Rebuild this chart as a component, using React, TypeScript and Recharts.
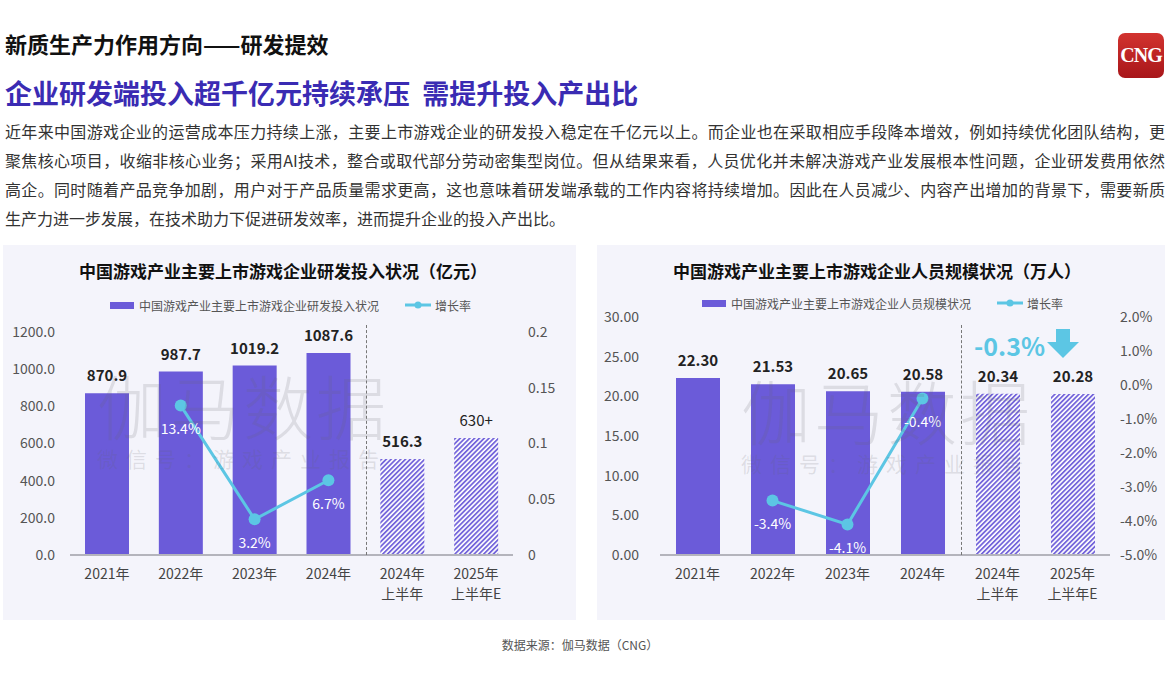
import React from 'react';
import { ComposedChart, Bar, Line, XAxis, YAxis, Cell, LabelList } from 'recharts';

const years = ['2021年', '2022年', '2023年', '2024年', '2024年\n上半年', '2025年\n上半年E'];

// 研发投入（亿元）
const rdInvest = [870.9, 987.7, 1019.2, 1087.6, 516.3, 630];
const rdInvestLabels = ['870.9', '987.7', '1019.2', '1087.6', '516.3', '630+'];
const rdGrowth = [null, 0.134, 0.032, 0.067, null, null];
const rdLeftTicks = [0, 200, 400, 600, 800, 1000, 1200];
const rdRightTicks = [0, 0.05, 0.1, 0.15, 0.2];

// 人员规模（万人）
const staff = [22.3, 21.53, 20.65, 20.58, 20.34, 20.28];
const staffLabels = ['22.30', '21.53', '20.65', '20.58', '20.34', '20.28'];
const staffGrowth = [null, -3.4, -4.1, -0.4, null, null];
const staffLeftTicks = [0, 5, 10, 15, 20, 25, 30];
const staffRightTicks = [-5, -4, -3, -2, -1, 0, 1, 2];

const paragraph = [
  '近年来中国游戏企业的运营成本压力持续上涨，主要上市游戏企业的研发投入稳定在千亿元以上。而企业也在采取相应手段降本增效，例如持续优化团队结构，更',
  '聚焦核心项目，收缩非核心业务；采用AI技术，整合或取代部分劳动密集型岗位。但从结果来看，人员优化并未解决游戏产业发展根本性问题，企业研发费用依然',
  '高企。同时随着产品竞争加剧，用户对于产品质量需求更高，这也意味着研发端承载的工作内容将持续增加。因此在人员减少、内容产出增加的背景下，需要新质',
  '生产力进一步发展，在技术助力下促进研发效率，进而提升企业的投入产出比。',
];

const PURPLE = '#6b5bd9';
const HATCH = '#7566db';
const CYAN = '#5cc6e4';
const PANEL_BG = '#f4f4fb';
const FONT = '"Noto Sans CJK SC", "Noto Sans", sans-serif';

const rdData = years.map((name, i) => ({
  name,
  value: rdInvest[i],
  label: rdInvestLabels[i],
  growth: rdGrowth[i],
}));

const staffData = years.map((name, i) => ({
  name,
  value: staff[i],
  label: staffLabels[i],
  growth: staffGrowth[i],
}));

const YearTick = (props: any) => {
  const { x, y, payload } = props;
  const lines = String(payload.value).split('\n');
  return (
    <text x={x} y={y} textAnchor="middle" fontSize={14} fill="#444" fontFamily={FONT}>
      {lines.map((l, i) => (
        <tspan key={i} x={x} dy={i === 0 ? 16 : 20}>
          {l}
        </tspan>
      ))}
    </text>
  );
};

function barLabel(labels: string[]) {
  return (props: any) => {
    const vb = props.viewBox ?? props;
    const idx = props.index;
    const text = labels[idx];
    if (text == null) return null;
    return (
      <text
        x={vb.x + vb.width / 2}
        y={vb.y - 16}
        textAnchor="middle"
        dominantBaseline="middle"
        fontSize={15}
        fontWeight={text.endsWith('+') ? 400 : 700}
        fill="#222"
        fontFamily={FONT}
      >
        {text}
      </text>
    );
  };
}

function lineLabel(fmt: (v: number) => string) {
  return (props: any) => {
    const vb = props.viewBox ?? props;
    const v = props.value;
    if (v == null || vb.x == null || vb.y == null) return null;
    return (
      <text
        x={vb.x}
        y={vb.y + 25}
        textAnchor="middle"
        dominantBaseline="middle"
        fontSize={14}
        fill="#fff"
        fontFamily={FONT}
      >
        {fmt(v)}
      </text>
    );
  };
}

function Legend({ top, rectLeft, label }: { top: number; rectLeft: number; label: string }) {
  return (
    <div
      style={{
        position: 'absolute',
        left: rectLeft,
        top: top - 9,
        height: 18,
        display: 'flex',
        alignItems: 'center',
        fontSize: 12,
        color: '#555',
        whiteSpace: 'nowrap',
      }}
    >
      <span style={{ width: 24, height: 7, background: PURPLE, marginRight: 5 }} />
      <span>{label}</span>
      <svg width={26} height={10} style={{ marginLeft: 26, marginRight: 4 }}>
        <line x1={0} y1={5} x2={26} y2={5} stroke={CYAN} strokeWidth={3} />
        <circle cx={13} cy={5} r={3.5} fill={CYAN} />
      </svg>
      <span>增长率</span>
    </div>
  );
}

function Watermark({ left, top }: { left: number; top: number }) {
  return (
    <div style={{ position: 'absolute', left, top, pointerEvents: 'none', color: 'rgba(100,100,110,0.17)' }}>
      <div style={{ fontSize: 70, letterSpacing: 3, lineHeight: '76px', whiteSpace: 'nowrap', fontWeight: 300 }}>伽马数据</div>
      <div style={{ fontSize: 21, letterSpacing: 8, lineHeight: '26px', marginTop: 2, whiteSpace: 'nowrap' }}>
        微信号：游戏产业报告
      </div>
    </div>
  );
}

export default function App() {
  return (
    <div
      style={{
        position: 'absolute',
        left: 0,
        top: 0,
        width: 1170,
        height: 685,
        background: '#fff',
        fontFamily: FONT,
        overflow: 'hidden',
      }}
    >
      <svg width={0} height={0} style={{ position: 'absolute' }}>
        <defs>
          <pattern id="hatch" patternUnits="userSpaceOnUse" width={3.4} height={3.4} patternTransform="rotate(45)">
            <rect width={3.4} height={3.4} fill="#ffffff" />
            <line x1={0.9} y1={0} x2={0.9} y2={3.4} stroke={HATCH} strokeWidth={1.8} />
          </pattern>
        </defs>
      </svg>

      <div style={{ position: 'absolute', left: 5, top: 28, fontSize: 22, fontWeight: 700, color: '#111', lineHeight: '30px' }}>
        新质生产力作用方向——研发提效
      </div>
      <div style={{ position: 'absolute', left: 5, top: 74, fontSize: 27, fontWeight: 700, color: '#3a2bb3', lineHeight: '38px', whiteSpace: 'pre' }}>
        企业研发端投入超千亿元持续承压  需提升投入产出比
      </div>

      <div style={{ position: 'absolute', left: 5, top: 117, width: 1160, fontSize: 16, color: '#333', lineHeight: '29px' }}>
        {paragraph.map((line, i) => (
          <div
            key={i}
            style={{
              textAlign: 'justify',
              textAlignLast: i < paragraph.length - 1 ? 'justify' : 'left',
              whiteSpace: 'nowrap',
            }}
          >
            {line}
          </div>
        ))}
      </div>

      <div style={{ position: 'absolute', left: 1118, top: 33, width: 46, height: 45, borderRadius: 7, background: 'linear-gradient(180deg, #d2332f 0%, #a8161a 100%)', display: 'flex', alignItems: 'center', justifyContent: 'center' }}>
        <span style={{ color: '#fff', fontFamily: '"Liberation Serif", "DejaVu Serif", serif', fontWeight: 700, fontSize: 20, letterSpacing: -1 }}>CNG</span>
      </div>

      {/* 左图：研发投入 */}
      <div style={{ position: 'absolute', left: 3, top: 245, width: 573, height: 375, background: PANEL_BG }}>
        <div style={{ position: 'absolute', left: 0, width: 560, top: 14, textAlign: 'center', fontSize: 17, fontWeight: 700, color: '#111', lineHeight: '24px' }}>
          中国游戏产业主要上市游戏企业研发投入状况（亿元）
        </div>
        <Legend top={60} rectLeft={107} label="中国游戏产业主要上市游戏企业研发投入状况" />
        <ComposedChart width={573} height={375} data={rdData} margin={{ top: 87, right: 10, bottom: 15, left: 10 }} style={{ position: 'absolute', left: 0, top: 0 }}>
          <XAxis dataKey="name" interval={0} tickLine={false} axisLine={{ stroke: '#b4b4bc', strokeWidth: 2 }} tick={<YearTick />} height={50} />
          <YAxis yAxisId="left" width={57} domain={[0, 1200]} ticks={rdLeftTicks} tickFormatter={(v: number) => v.toFixed(1)} axisLine={false} tickLine={false} tickMargin={9} tick={{ fontSize: 14, fill: '#555' }} />
          <YAxis yAxisId="right" orientation="right" width={53} domain={[0, 0.2]} ticks={rdRightTicks} tickFormatter={(v: number) => String(v)} axisLine={false} tickLine={false} tickMargin={9} tick={{ fontSize: 14, fill: '#555' }} />
          <Bar yAxisId="left" dataKey="value" barSize={44} isAnimationActive={false}>
            {rdData.map((_, i) => (
              <Cell key={i} fill={i >= 4 ? 'url(#hatch)' : PURPLE} />
            ))}
            <LabelList dataKey="value" content={barLabel(rdInvestLabels)} />
          </Bar>
          <Line yAxisId="right" dataKey="growth" stroke={CYAN} strokeWidth={3} dot={{ r: 6, fill: CYAN, stroke: CYAN, strokeWidth: 0 }} activeDot={false} connectNulls={false} isAnimationActive={false}>
            <LabelList dataKey="growth" content={lineLabel((v) => `${(v * 100).toFixed(1)}%`)} />
          </Line>
        </ComposedChart>
        <div style={{ position: 'absolute', left: 363, top: 80, height: 230, borderLeft: '1px dashed #777' }} />
        <Watermark left={94} top={122} />
      </div>

      {/* 右图：人员规模 */}
      <div style={{ position: 'absolute', left: 597, top: 245, width: 568, height: 375, background: PANEL_BG }}>
        <div style={{ position: 'absolute', left: 0, width: 560, top: 14, textAlign: 'center', fontSize: 17, fontWeight: 700, color: '#111', lineHeight: '24px' }}>
          中国游戏产业主要上市游戏企业人员规模状况（万人）
        </div>
        <Legend top={58} rectLeft={105} label="中国游戏产业主要上市游戏企业人员规模状况" />
        <ComposedChart width={568} height={375} data={staffData} margin={{ top: 72, right: 10, bottom: 15, left: 10 }} style={{ position: 'absolute', left: 0, top: 0 }}>
          <XAxis dataKey="name" interval={0} tickLine={false} axisLine={{ stroke: '#b4b4bc', strokeWidth: 2 }} tick={<YearTick />} height={50} />
          <YAxis yAxisId="left" width={53} domain={[0, 30]} ticks={staffLeftTicks} tickFormatter={(v: number) => v.toFixed(2)} axisLine={false} tickLine={false} tickMargin={15} tick={{ fontSize: 14, fill: '#555' }} />
          <YAxis yAxisId="right" orientation="right" width={45} domain={[-5, 2]} ticks={staffRightTicks} tickFormatter={(v: number) => `${v.toFixed(1)}%`} axisLine={false} tickLine={false} tickMargin={4} tick={{ fontSize: 14, fill: '#555' }} />
          <Bar yAxisId="left" dataKey="value" barSize={44} isAnimationActive={false}>
            {staffData.map((_, i) => (
              <Cell key={i} fill={i >= 4 ? 'url(#hatch)' : PURPLE} />
            ))}
            <LabelList dataKey="value" content={barLabel(staffLabels)} />
          </Bar>
          <Line yAxisId="right" dataKey="growth" stroke={CYAN} strokeWidth={3} dot={{ r: 6, fill: CYAN, stroke: CYAN, strokeWidth: 0 }} activeDot={false} connectNulls={false} isAnimationActive={false}>
            <LabelList dataKey="growth" content={lineLabel((v) => `${v.toFixed(1)}%`)} />
          </Line>
        </ComposedChart>
        <div style={{ position: 'absolute', left: 364, top: 80, height: 230, borderLeft: '1px dashed #777' }} />
        <div style={{ position: 'absolute', left: 377, top: 84, fontSize: 25, fontWeight: 700, color: CYAN, lineHeight: '32px' }}>-0.3%</div>
        <svg width={34} height={30} style={{ position: 'absolute', left: 449, top: 84 }}>
          <polygon points="10,0 24,0 24,13 33,13 17,29 1,13 10,13" fill={CYAN} />
        </svg>
        <Watermark left={144} top={127} />
      </div>

      <div style={{ position: 'absolute', left: 0, width: 1160, top: 636, textAlign: 'center', fontSize: 12, color: '#555' }}>
        数据来源：伽马数据（CNG）
      </div>
    </div>
  );
}
